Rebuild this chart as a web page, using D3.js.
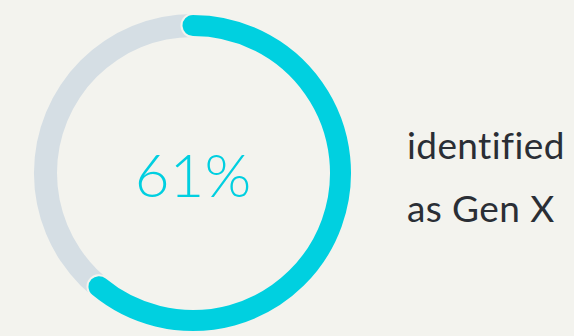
<!DOCTYPE html>
<html>
<head>
<meta charset="utf-8">
<script src="https://cdn.jsdelivr.net/npm/d3@7"></script>
<style>
  html, body { margin: 0; padding: 0; background: #f3f3ee; }
  svg { display: block; }
  text { font-variant-ligatures: none; font-feature-settings: "liga" 0, "clig" 0; }
</style>
</head>
<body>
<div id="chart"></div>
<script>
var shares = [0.61]; // share that identified as Gen X
var valueLabels = ["61%"];
var captionLines = ["identified", "as Gen X"];

var width = 574, height = 336;
var cx = 193, cy = 173;
var outer = 159, inner = 136;

var svg = d3.select("#chart").append("svg")
    .attr("width", width)
    .attr("height", height);

svg.append("rect")
    .attr("width", width)
    .attr("height", height)
    .attr("fill", "#f3f3ee");

// scale from share to angle
var angle = d3.scaleLinear().domain([0, 1]).range([0, 2 * Math.PI]);

var arc = d3.arc()
    .innerRadius(inner)
    .outerRadius(outer);

var g = svg.append("g").attr("transform", "translate(" + cx + "," + cy + ")");

// full track
g.append("path")
    .attr("d", arc({ startAngle: 0, endAngle: 2 * Math.PI }))
    .attr("fill", "#d5dee4");

// value arc with rounded ends
g.selectAll("path.value")
    .data(shares)
    .enter()
    .append("path")
    .attr("class", "value")
    .attr("d", function(d) {
        return arc.cornerRadius((outer - inner) / 2)({ startAngle: angle(0) - 0.078, endAngle: angle(d) + 0.078 });
    })
    .attr("fill", "#00d0e0")
    .attr("stroke", "#f3f3ee")
    .attr("stroke-width", 2);

g.selectAll("text.value")
    .data(valueLabels)
    .enter()
    .append("text")
    .attr("class", "value")
    .attr("x", 0)
    .attr("y", 24)
    .attr("text-anchor", "middle")
    .attr("font-family", "Lato, sans-serif")
    .attr("font-weight", 300)
    .attr("font-size", 60)
    .attr("fill", "#00cfe0")
    .text(function(d) { return d; });

svg.selectAll("text.caption")
    .data(captionLines)
    .enter()
    .append("text")
    .attr("class", "caption")
    .attr("x", 407)
    .attr("y", function(d, i) { return 159 + i * 63; })
    .attr("font-family", "Lato, sans-serif")
    .attr("font-size", 37)
    .attr("letter-spacing", 0.4)
    .attr("fill", "#2a2e35")
    .text(function(d) { return d; });
</script>
</body>
</html>
